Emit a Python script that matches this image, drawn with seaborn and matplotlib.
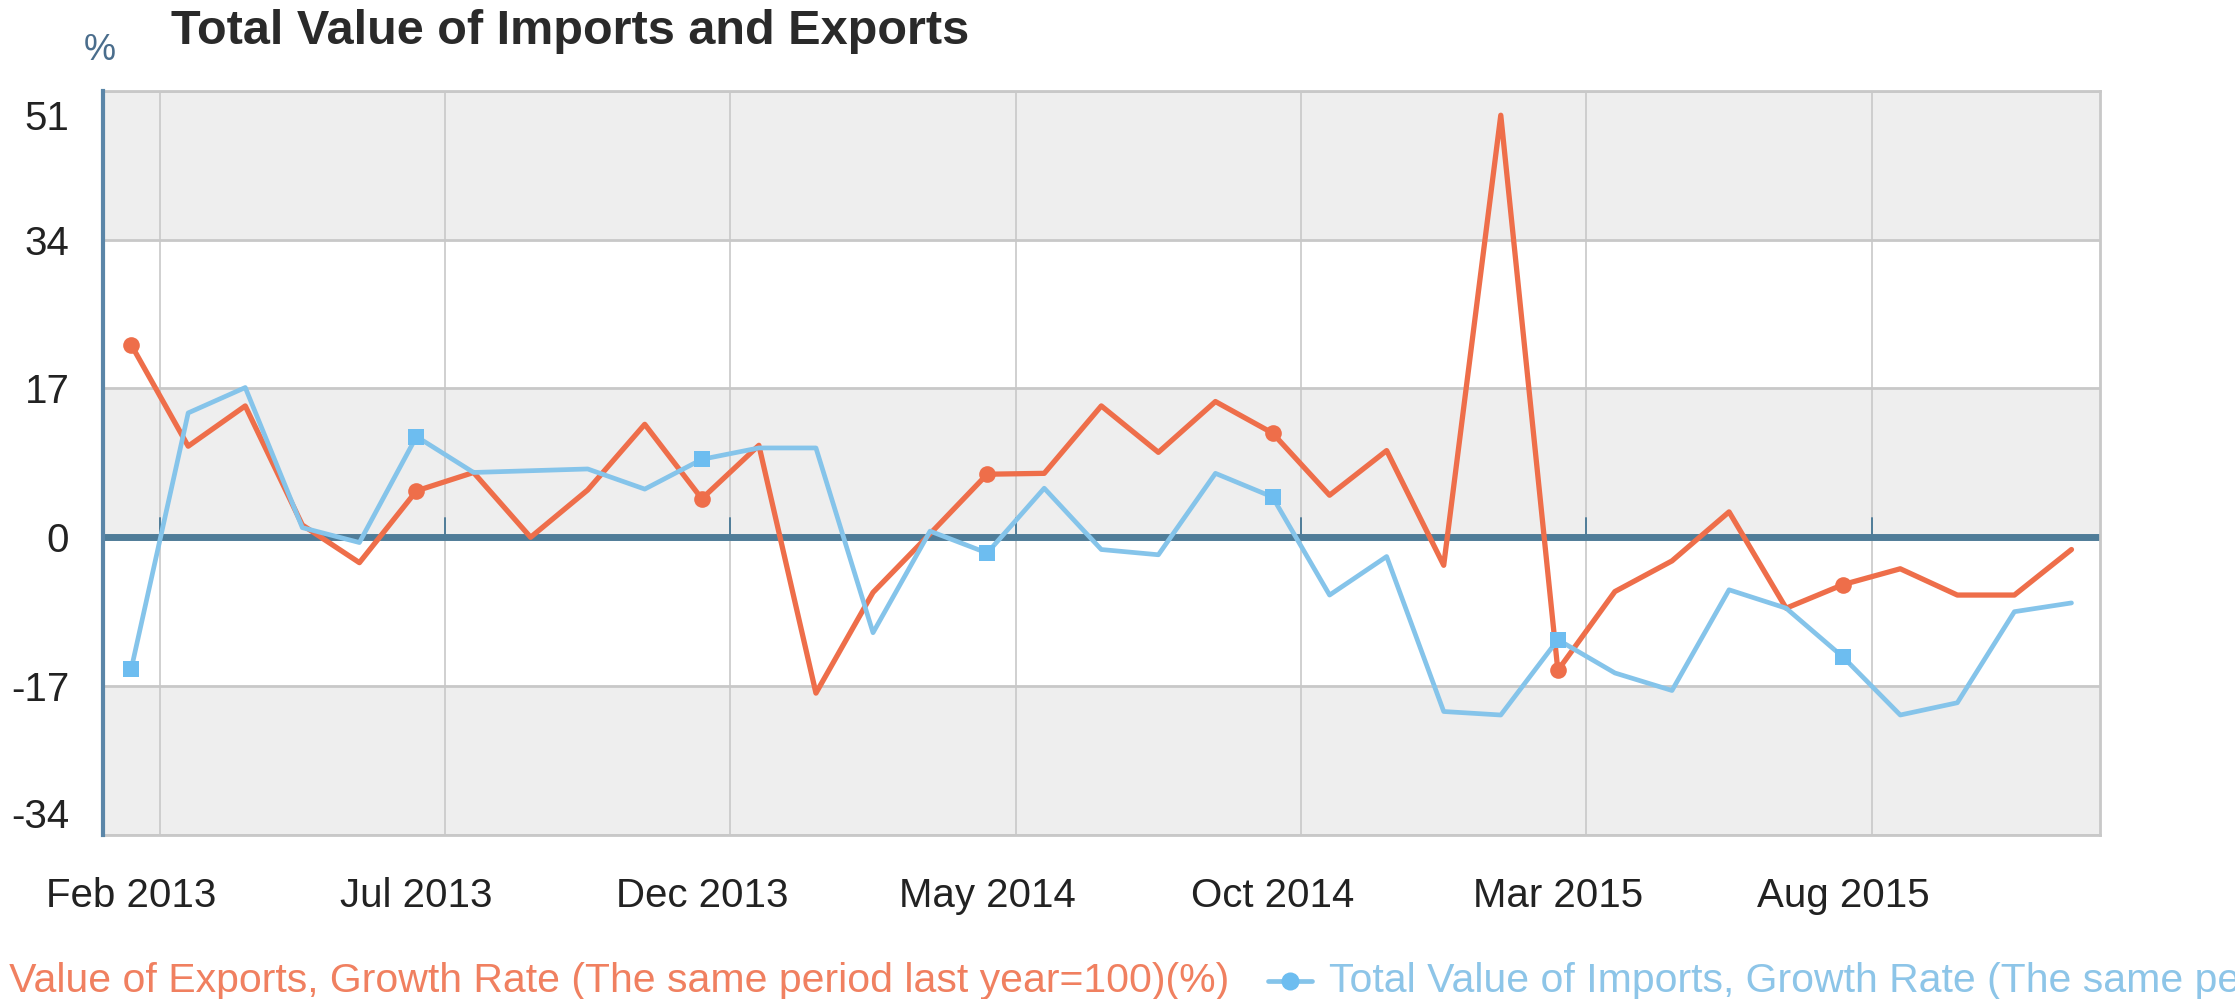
import numpy as np
import pandas as pd
import matplotlib.pyplot as plt
import seaborn as sns
from matplotlib.lines import Line2D
from matplotlib.transforms import ScaledTranslation

# monthly growth rates, Feb 2013 - Dec 2015
months = pd.period_range('2013-02', '2015-12', freq='M')
exports = [22.0, 10.4, 15.0, 1.4, -2.9, 5.3, 7.4, 0.0, 5.4, 12.9, 4.4, 10.5,
           -17.8, -6.3, 0.4, 7.2, 7.3, 15.0, 9.7, 15.5, 11.9, 4.8, 9.9, -3.2,
           48.2, -15.2, -6.2, -2.7, 2.9, -8.1, -5.4, -3.6, -6.6, -6.6, -1.4]
imports = [-15.1, 14.2, 17.1, 1.1, -0.6, 11.5, 7.4, 7.6, 7.8, 5.5, 8.9, 10.2,
           10.2, -10.9, 0.7, -1.8, 5.6, -1.4, -2.0, 7.3, 4.6, -6.6, -2.2, -19.9,
           -20.3, -11.7, -15.5, -17.5, -6.0, -8.1, -13.7, -20.3, -18.9, -8.5, -7.5]
y_ticks = [-34, -17, 0, 17, 34, 51]

export_label = 'Total Value of Exports, Growth Rate (The same period last year=100)(%)'
import_label = 'Total Value of Imports, Growth Rate (The same period last year=100)(%)'

orange = '#EE6E4A'
blue = '#85C4EA'
blue_mark = '#6DBDF0'
axis_blue = '#4F7C98'
grid_col = '#C8C8C8'
band_col = '#EEEEEE'

df = pd.DataFrame({'idx': np.arange(len(months)),
                   'month': [m.strftime('%b %Y') for m in months],
                   'exports': exports, 'imports': imports})

sns.set_theme(style='white')
plt.rcParams['font.family'] = ['Liberation Sans', 'DejaVu Sans']

fig = plt.figure(figsize=(22.35, 9.99), dpi=100)
ax = fig.add_axes([0.0459, 0.1642, 0.9396 - 0.0459, 0.9092 - 0.1642])

# alternating bands, starting grey at the bottom
for i in range(0, len(y_ticks) - 1, 2):
    ax.axhspan(y_ticks[i], y_ticks[i + 1], color=band_col, zorder=0, lw=0)

sns.lineplot(data=df, x='idx', y='exports', ax=ax, color=orange, linewidth=3.8,
             marker='o', markevery=5, markersize=12, markeredgewidth=0, zorder=3)
sns.lineplot(data=df, x='idx', y='imports', ax=ax, color=blue, linewidth=3.4,
             marker='s', markevery=5, markersize=11.5, markerfacecolor=blue_mark,
             markeredgewidth=0, zorder=3)

ax.set_xlim(-0.5, len(months) - 0.5)
ax.set_ylim(y_ticks[0], y_ticks[-1])
ax.set_xticks(df['idx'][::5])
ax.set_xticklabels(df['month'][::5])
grid_x = np.arange(0.5, len(months) - 1, 5)
ax.set_xticks(grid_x, minor=True)
ax.set_yticks(y_ticks)
ax.set_yticklabels([str(v) for v in y_ticks])

ax.grid(False)
ax.grid(which='minor', axis='x', color=grid_col, lw=1.2, zorder=1)
ax.grid(which='major', axis='y', color=grid_col, lw=2.0, zorder=1)
ax.axhline(0, color=axis_blue, lw=5, zorder=2)
for gx in grid_x:
    ax.plot([gx, gx], [0, 2.2], color=axis_blue, lw=1.4, zorder=2)

ax.tick_params(axis='both', which='both', length=0, labelsize=29, labelcolor='#222222')
ax.tick_params(axis='x', pad=30)
ax.tick_params(axis='y', pad=24)
ax.set_xlabel('')
ax.set_ylabel('')

for name, sp in ax.spines.items():
    sp.set_color(grid_col)
    sp.set_linewidth(2.0)
ax.spines['left'].set_color('#5B86A8')
ax.spines['left'].set_linewidth(3.0)
ax.spines['left'].set_zorder(4)

# keep end labels inside the plot area
ylabels = ax.get_yticklabels()
ylabels[-1].set_transform(ylabels[-1].get_transform() + ScaledTranslation(0, -0.24, fig.dpi_scale_trans))
ylabels[0].set_transform(ylabels[0].get_transform() + ScaledTranslation(0, 0.22, fig.dpi_scale_trans))

fig.text(171 / 2235, 1 - 31 / 999, 'Total Value of Imports and Exports',
         fontsize=35, fontweight='bold', color='#2a2a2a', va='center', ha='left')
fig.text(100 / 2235, 1 - 50 / 999, '%', fontsize=26, color='#4A6D8C',
         va='center', ha='center')

# legend row (runs off both sides of the figure, as in the original)
ly = 1 - 981 / 999
fig.text(1229 / 2235, ly, export_label, fontsize=29.5, color='#F08060',
         ha='right', va='center')
fig.add_artist(Line2D([1268 / 2235, 1312 / 2235], [ly, ly], color=blue, lw=3.4,
                      transform=fig.transFigure))
fig.add_artist(Line2D([1290 / 2235], [ly], color=blue_mark, marker='o', markersize=13,
                      markeredgewidth=0, transform=fig.transFigure))
fig.text(1329 / 2235, ly, import_label, fontsize=29.5, color='#8DC5E8',
         ha='left', va='center')

fig.savefig('out.png', dpi=100)
